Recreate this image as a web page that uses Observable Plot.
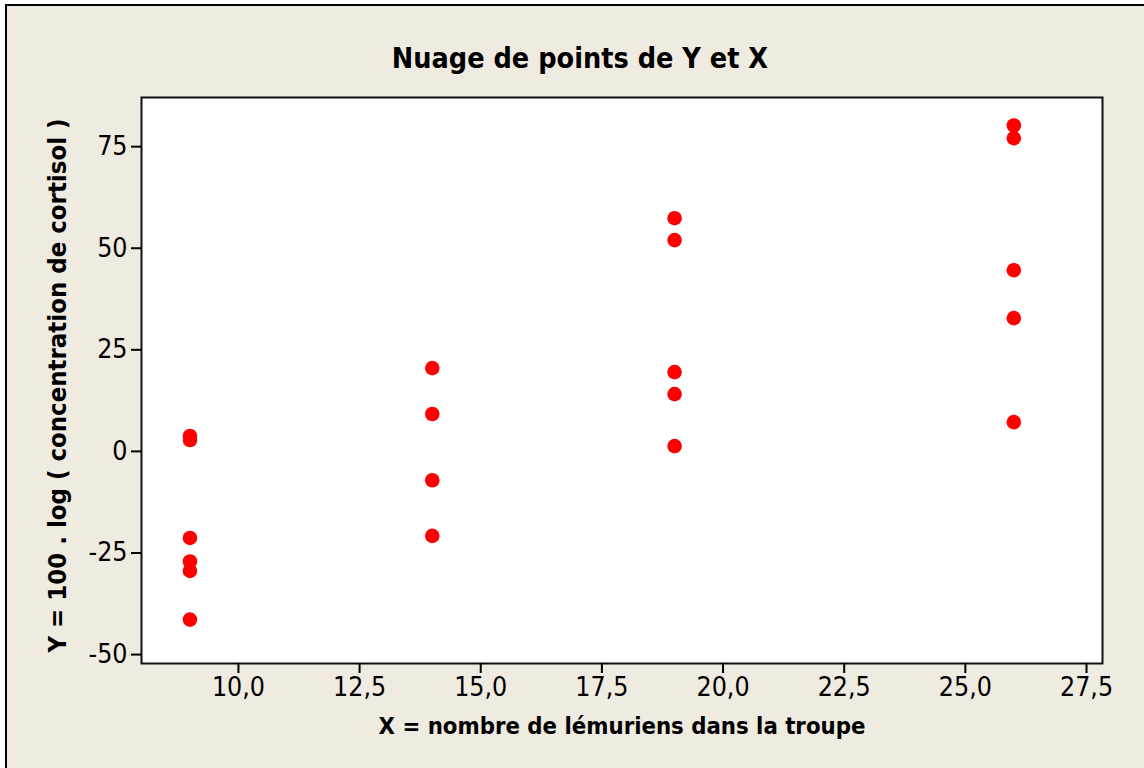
<!DOCTYPE html>
<html>
<head>
<meta charset="utf-8">
<script src="https://cdn.jsdelivr.net/npm/d3@7"></script>
<script src="https://cdn.jsdelivr.net/npm/@observablehq/plot@0.6"></script>
<style>
  html, body { margin: 0; padding: 0; background: #ffffff; width: 1144px; height: 768px; overflow: hidden; }
  #panel { position: absolute; left: 5px; top: 4px; width: 1150px; height: 780px;
           background: #EFEBE1; border-left: 2px solid #000; border-top: 2px solid #000; }
  #title { position: absolute; left: 8px; top: 42px; width: 1144px; text-align: center;
           font-family: "DejaVu Sans Condensed", "DejaVu Sans", sans-serif; font-weight: bold;
           font-size: 28.5px; color: #000; }
  #chart { position: absolute; left: 0; top: 80px; }
  #chart svg { overflow: visible; }
</style>
</head>
<body>
<div id="panel"></div>
<div id="title">Nuage de points de Y et X</div>
<div id="chart"></div>
<script>
const xValues = [9, 9, 9, 9, 9, 9, 14, 14, 14, 14, 19, 19, 19, 19, 19, 26, 26, 26, 26, 26];
const yValues = [3.8, 2.8, -21.3, -27.1, -29.4, -41.4, 20.5, 9.2, -7.1, -20.8, 57.4, 52.0, 19.5, 14.1, 1.3, 80.2, 77.1, 44.6, 32.8, 7.2];
const xTicks = [10, 12.5, 15, 17.5, 20, 22.5, 25, 27.5];
const yTicks = [-50, -25, 0, 25, 50, 75];
const xLabel = "X = nombre de lémuriens dans la troupe";
const yLabel = "Y = 100 . log ( concentration de cortisol )";

const data = xValues.map((x, i) => ({x, y: yValues[i]}));

const chart = Plot.plot({
  width: 1144,
  height: 688,
  marginLeft: 141,
  marginRight: 42,
  marginTop: 17,
  marginBottom: 105,
  style: {background: "transparent", fontFamily: "'DejaVu Sans Condensed', 'DejaVu Sans', sans-serif", fontSize: "26.5px", color: "#000", overflow: "visible"},
  x: {domain: [8.0, 27.83]},
  y: {domain: [-52.2, 87.1]},
  marks: [
    Plot.rect([0], {x1: 8.0, x2: 27.83, y1: -52.2, y2: 87.1, fill: "#ffffff"}),
    Plot.dot(data, {x: "x", y: "y", r: 7.3, fill: "#FF0000", stroke: "none"}),
    Plot.frame({stroke: "#111", strokeWidth: 2}),
    Plot.axisX({ticks: xTicks, tickFormat: d => d.toFixed(1).replace(".", ","), tickSize: 10, tickPadding: 4,
      strokeWidth: 2, label: null}),
    Plot.axisY({ticks: yTicks, tickFormat: d => String(d), tickSize: 10, tickPadding: 4,
      strokeWidth: 2, label: null}),
    Plot.text([xLabel], {frameAnchor: "bottom", dy: 70, text: d => d, fontWeight: "bold", fontSize: 23.7}),
    Plot.text([yLabel], {frameAnchor: "left", textAnchor: "middle", dx: -84, dy: 5, rotate: -90, text: d => d, fontWeight: "bold", fontSize: 25.5})
  ]
});
document.getElementById("chart").append(chart);
</script>
</body>
</html>
